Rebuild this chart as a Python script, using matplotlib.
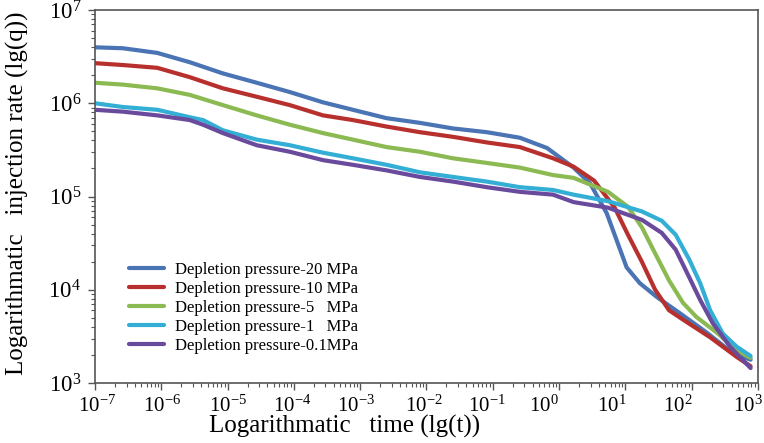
import numpy as np
import matplotlib
matplotlib.use('Agg')
import matplotlib.pyplot as plt
import matplotlib.transforms as mtransforms

# curves: log10(t) and log10(q)
lgt_20 = [-7.0, -6.58, -6.06, -5.57, -5.07, -4.56, -4.06, -3.56, -3.11, -2.60, -2.10, -1.60, -1.09, -0.59, -0.18,
          0.22, 0.47, 0.72, 0.87, 1.02, 1.22, 1.48, 1.82, 2.23, 2.62, 2.89]
lgq_20 = [6.60, 6.59, 6.54, 6.44, 6.32, 6.22, 6.12, 6.01, 5.93, 5.84, 5.79, 5.73, 5.69, 5.63, 5.52,
          5.31, 5.14, 4.82, 4.53, 4.24, 4.07, 3.92, 3.75, 3.54, 3.32, 3.25]

lgt_10 = [-7.0, -6.58, -6.06, -5.57, -5.07, -4.56, -4.06, -3.56, -3.11, -2.60, -2.10, -1.60, -1.09, -0.59, -0.09,
          0.22, 0.53, 0.84, 1.04, 1.25, 1.45, 1.66, 1.87, 2.28, 2.68, 2.89]
lgq_10 = [6.43, 6.41, 6.38, 6.28, 6.16, 6.07, 5.98, 5.87, 5.82, 5.75, 5.69, 5.64, 5.58, 5.53, 5.41,
          5.32, 5.17, 4.88, 4.59, 4.30, 4.00, 3.78, 3.68, 3.49, 3.28, 3.18]

lgt_5 = [-7.0, -6.58, -6.06, -5.57, -5.07, -4.56, -4.06, -3.56, -3.11, -2.60, -2.10, -1.60, -1.09, -0.59, -0.09,
         0.22, 0.74, 1.04, 1.25, 1.45, 1.66, 1.87, 2.07, 2.38, 2.68, 2.89]
lgq_5 = [6.22, 6.20, 6.16, 6.09, 5.98, 5.87, 5.77, 5.68, 5.61, 5.53, 5.48, 5.41, 5.36, 5.31, 5.23,
         5.20, 5.05, 4.89, 4.67, 4.39, 4.10, 3.86, 3.71, 3.54, 3.35, 3.27]

lgt_1 = [-7.0, -6.58, -6.06, -5.57, -5.37, -5.07, -4.56, -4.06, -3.56, -3.11, -2.60, -2.10, -1.60, -1.09, -0.59,
         -0.09, 0.22, 0.74, 1.25, 1.55, 1.76, 1.96, 2.13, 2.28, 2.47, 2.68, 2.89]
lgq_1 = [6.00, 5.96, 5.93, 5.85, 5.82, 5.71, 5.61, 5.55, 5.47, 5.41, 5.34, 5.26, 5.21, 5.16, 5.10,
         5.07, 5.02, 4.95, 4.84, 4.74, 4.59, 4.33, 4.07, 3.78, 3.53, 3.39, 3.29]

lgt_01 = [-7.0, -6.58, -6.06, -5.57, -5.37, -5.07, -4.56, -4.06, -3.56, -3.11, -2.60, -2.10, -1.60, -1.09, -0.59,
          -0.09, 0.22, 0.74, 1.25, 1.55, 1.76, 1.96, 2.13, 2.32, 2.58, 2.89]
lgq_01 = [5.93, 5.91, 5.87, 5.82, 5.77, 5.68, 5.55, 5.48, 5.39, 5.34, 5.28, 5.21, 5.16, 5.10, 5.05,
          5.02, 4.94, 4.88, 4.75, 4.61, 4.43, 4.14, 3.89, 3.64, 3.39, 3.16]

labels = ['Depletion pressure-20 MPa', 'Depletion pressure-10 MPa', 'Depletion pressure-5   MPa',
          'Depletion pressure-1   MPa', 'Depletion pressure-0.1MPa']
colors = ['#4a74b4', '#b8302e', '#8cba52', '#33aed4', '#6a4a9c']

x_decades = list(range(-7, 4))
y_decades = list(range(3, 8))
# the x tick labels in the picture sit a little left of their ticks (pixels)
xlab_shift = [2, 1, 0, -2, -4, -3, -6, -15, -14, -14, -10]

plt.rcParams['font.family'] = ['Liberation Serif', 'DejaVu Serif']
plt.rcParams['mathtext.fontset'] = 'stix'

fig = plt.figure(figsize=(7.64, 4.43), dpi=100)
ax = fig.add_axes([0.1243, 0.1354, 0.8677, 0.8420])

series = [(lgt_20, lgq_20), (lgt_10, lgq_10), (lgt_5, lgq_5), (lgt_1, lgq_1), (lgt_01, lgq_01)]
for (lt, lq), lab, c in zip(series, labels, colors):
    ax.plot(10 ** np.array(lt), 10 ** np.array(lq), color=c, lw=3, label=lab, solid_capstyle='round')

ax.set_xscale('log')
ax.set_yscale('log')
ax.set_xlim(1e-7, 1e3)
ax.set_ylim(1e3, 1e7)
ax.set_xticks([10.0 ** k for k in x_decades])
ax.set_yticks([10.0 ** k for k in y_decades])
ax.xaxis.set_minor_locator(matplotlib.ticker.LogLocator(base=10, subs=np.arange(2, 10), numticks=20))
ax.yaxis.set_minor_locator(matplotlib.ticker.LogLocator(base=10, subs=np.arange(2, 10), numticks=20))
ax.xaxis.set_minor_formatter(matplotlib.ticker.NullFormatter())
ax.yaxis.set_minor_formatter(matplotlib.ticker.NullFormatter())
ax.tick_params(which='major', length=5, width=1, labelsize=15, color='#555555')
ax.tick_params(which='minor', length=3, width=0.8, color='#555555')
ax.tick_params(axis='x', pad=4)
ax.tick_params(axis='y', labelsize=16.5, pad=5)
for s in ax.spines.values():
    s.set_color('#555555')
    s.set_linewidth(1.2)

for tick, dx in zip(ax.xaxis.get_major_ticks(), xlab_shift):
    off = mtransforms.ScaledTranslation(dx / 100.0, 0, fig.dpi_scale_trans)
    tick.label1.set_transform(tick.label1.get_transform() + off)

ax.set_xlabel('Logarithmatic   time (lg(t))', fontsize=18, labelpad=0)
ax.xaxis.set_label_coords(0.377, -0.085, transform=ax.transAxes)
ax.xaxis.label.set_va('top')
ax.set_ylabel('Logarithmatic   injection rate (lg(q))', fontsize=18, labelpad=0)
ax.yaxis.set_label_coords(-0.1, 0.51, transform=ax.transAxes)

leg = ax.legend(loc='upper left', bbox_to_anchor=(0.028, 0.365), frameon=False, fontsize=12,
                handlelength=2.1, handletextpad=0.7, labelspacing=0.18)

fig.savefig('out.png', dpi=100)
